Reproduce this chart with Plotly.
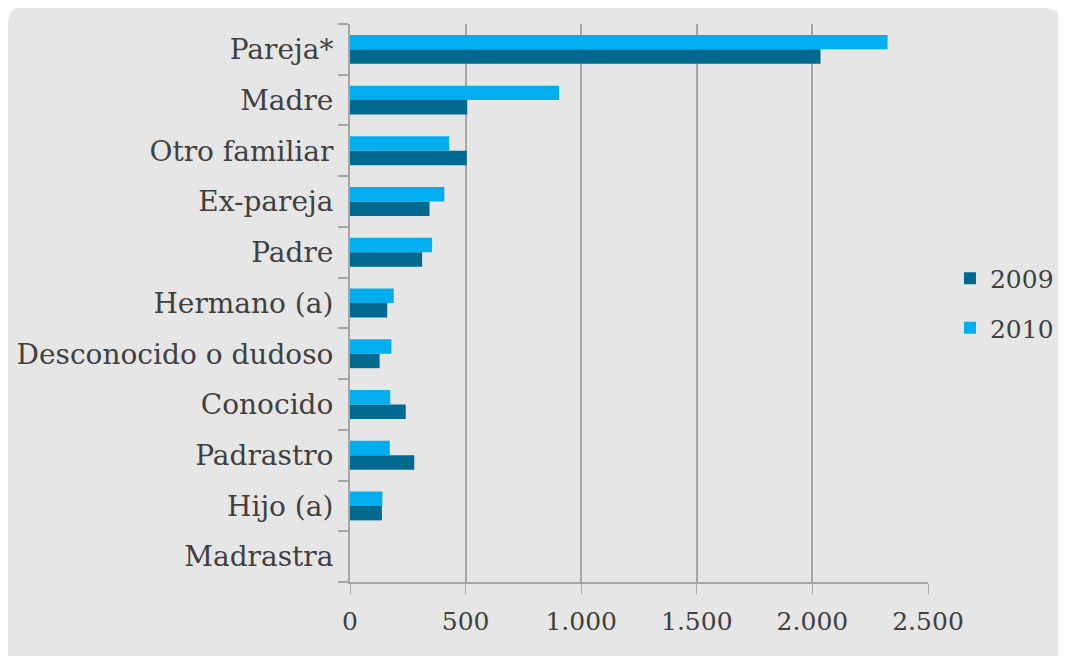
import plotly.graph_objects as go

categorias = ['Pareja*', 'Madre', 'Otro familiar', 'Ex-pareja', 'Padre', 'Hermano (a)',
              'Desconocido o dudoso', 'Conocido', 'Padrastro', 'Hijo (a)', 'Madrastra']
v2009 = [2035, 507, 505, 344, 312, 161, 128, 241, 278, 138, 0]
v2010 = [2325, 904, 429, 408, 355, 189, 179, 174, 172, 140, 0]
ticks_x = [0, 500, 1000, 1500, 2000, 2500]
ticks_txt = ['0', '500', '1.000', '1.500', '2.000', '2.500']

FONT = 'DejaVu Serif'
GRIS = '#a6a6a6'
TEXTO = '#404040'

fig = go.Figure()
fig.add_trace(go.Bar(y=categorias, x=v2009, orientation='h', name='2009', legendgroup='a',
                     marker=dict(color='#006990', line=dict(width=0))))
fig.add_trace(go.Bar(y=categorias, x=v2010, orientation='h', name='2010', legendgroup='b',
                     marker=dict(color='#00adef', line=dict(width=0))))

# panel gris con esquinas redondeadas
fig.add_shape(type='path', xref='paper', yref='paper', layer='below',
              path='M -0.575,1.0287 L 1.2,1.0287 Q 1.234,1.0287 1.234,0.99 L 1.234,-0.2 '
                   'L -0.592,-0.2 L -0.592,0.99 Q -0.592,1.0287 -0.575,1.0287 Z',
              fillcolor='#e6e6e6', line=dict(width=0))

fig.update_layout(
    width=1066, height=656,
    margin=dict(l=342, r=146, t=16, b=82, autoexpand=False),
    paper_bgcolor='white', plot_bgcolor='rgba(0,0,0,0)',
    barmode='group', bargap=0.43, bargroupgap=0,
    font=dict(family=FONT, color=TEXTO),
    showlegend=True,
    legend=dict(x=1.038, y=0.5, yanchor='middle', xanchor='left',
                font=dict(size=25, family=FONT, color=TEXTO),
                bgcolor='rgba(0,0,0,0)', itemwidth=30, tracegroupgap=14),
    xaxis=dict(range=[0, 2500], tickvals=ticks_x, ticktext=ticks_txt,
               showgrid=True, gridcolor=GRIS, gridwidth=2, zeroline=False,
               showline=True, linecolor=GRIS, linewidth=2,
               ticks='outside', ticklen=10, tickcolor=GRIS, tickwidth=1,
               ticklabelstandoff=6, automargin=False,
               tickfont=dict(size=25, family=FONT, color=TEXTO)),
    yaxis=dict(categoryorder='array', categoryarray=categorias[::-1],
               tickson='boundaries', ticks='outside', ticklen=10, tickcolor=GRIS,
               tickwidth=2, showline=True, linecolor=GRIS, linewidth=2,
               showgrid=False, ticklabelstandoff=9, automargin=False,
               tickfont=dict(size=28, family=FONT, color=TEXTO)),
)

fig.write_html("out.html")
